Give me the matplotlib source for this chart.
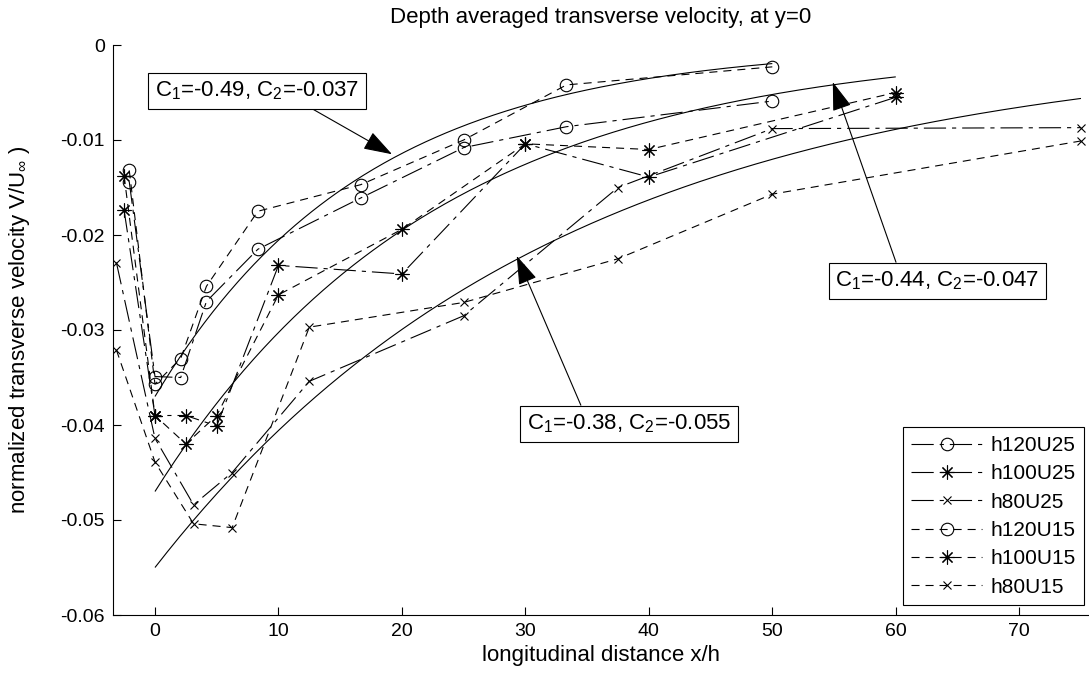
import matplotlib
matplotlib.use('Agg')
from matplotlib import pyplot as plt
import numpy as np

plt.rcParams['font.family'] = ['Liberation Sans', 'DejaVu Sans']
plt.rcParams['mathtext.fontset'] = 'custom'
plt.rcParams['mathtext.rm'] = 'Liberation Sans'
plt.rcParams['mathtext.it'] = 'Liberation Sans:italic'
plt.rcParams['axes.unicode_minus'] = False
plt.rcParams['lines.scale_dashes'] = False

# measuring stations x/h for the three flow depths
x_h120 = [-2.083, 0, 2.083, 4.167, 8.333, 16.67, 25, 33.33, 50]
x_h100 = [-2.5, 0, 2.5, 5, 10, 20, 30, 40, 60]
x_h80 = [-3.125, 0, 3.125, 6.25, 12.5, 25, 37.5, 50, 75]

# depth averaged V/U_inf on the centreline
v_h120U25 = [-0.0144, -0.0349, -0.0350, -0.0270, -0.0215, -0.0161, -0.0108, -0.0086, -0.0059]
v_h100U25 = [-0.0174, -0.0390, -0.0390, -0.0401, -0.0232, -0.0241, -0.0104, -0.0139, -0.0055]
v_h80U25 = [-0.0229, -0.0414, -0.0484, -0.0450, -0.0354, -0.0285, -0.0150, -0.0088, -0.0087]
v_h120U15 = [-0.0132, -0.0357, -0.0330, -0.0254, -0.0175, -0.0147, -0.0100, -0.0042, -0.0023]
v_h100U15 = [-0.0138, -0.0390, -0.0420, -0.0390, -0.0263, -0.0194, -0.0104, -0.0110, -0.0050]
v_h80U15 = [-0.0321, -0.0439, -0.0504, -0.0508, -0.0297, -0.0271, -0.0225, -0.0157, -0.0101]

# exponential decay fits  V/U = C2*exp(C1*x), x in metres
fit_C1 = [-0.49, -0.44, -0.38]
fit_C2 = [-0.037, -0.047, -0.055]
fit_depth = [0.12, 0.10, 0.08]   # h in m
fit_xmax = [50, 60, 75]          # x/h end of each fit

DASH = (5.8, 4.3)
DASHDOT = (16, 4.3, 3, 4.3)

fig = plt.figure(figsize=(10.89, 6.78), dpi=100)
ax = fig.add_axes([113 / 1089, 63 / 678, 976 / 1089, 570 / 678])

lw = 0.8
ax.plot(x_h120, v_h120U25, color='k', lw=lw, dashes=DASHDOT, marker='o', ms=9,
        mfc='none', mec='k', mew=lw, label='h120U25')
ax.plot(x_h100, v_h100U25, color='k', lw=lw, dashes=DASHDOT, marker=(8, 2, 0), ms=10,
        mec='k', mew=lw, label='h100U25')
ax.plot(x_h80, v_h80U25, color='k', lw=lw, dashes=DASHDOT, marker='x', ms=6,
        mec='k', mew=lw, label='h80U25')
ax.plot(x_h120, v_h120U15, color='k', lw=lw, dashes=DASH, marker='o', ms=9,
        mfc='none', mec='k', mew=lw, label='h120U15')
ax.plot(x_h100, v_h100U15, color='k', lw=lw, dashes=DASH, marker=(8, 2, 0), ms=10,
        mec='k', mew=lw, label='h100U15')
ax.plot(x_h80, v_h80U15, color='k', lw=lw, dashes=DASH, marker='x', ms=6,
        mec='k', mew=lw, label='h80U15')

for c1, c2, h, xm in zip(fit_C1, fit_C2, fit_depth, fit_xmax):
    xs = np.linspace(0, xm, 300)
    ax.plot(xs, c2 * np.exp(c1 * xs * h), color='k', lw=lw, solid_capstyle='butt')

ax.set_xlim(-3.4, 75.65)
ax.set_ylim(-0.06, 0)
ax.set_xticks(np.arange(0, 71, 10))
ax.set_yticks([0, -0.01, -0.02, -0.03, -0.04, -0.05, -0.06])
ax.set_yticklabels(['0', '-0.01', '-0.02', '-0.03', '-0.04', '-0.05', '-0.06'])

ax.spines['right'].set_color('none')
ax.spines['top'].set_color('none')
ax.spines['left'].set_linewidth(lw)
ax.spines['bottom'].set_linewidth(lw)
ax.xaxis.set_ticks_position('bottom')
ax.yaxis.set_ticks_position('left')
ax.tick_params(direction='in', length=6, width=lw, labelsize=14, pad=6)

ax.set_xlabel('longitudinal distance x/h', fontsize=16, labelpad=3)
ax.set_ylabel(r'normalized transverse velocity V/U$_{\infty}$ )', fontsize=16, labelpad=20)
fig.text(601 / 1089, 1 - 18 / 678, 'Depth averaged transverse velocity, at y=0',
         ha='center', va='center', fontsize=16)

# fit parameter call-outs
box = dict(boxstyle='square,pad=0.3', fc='white', ec='k', lw=lw)
arrow = dict(arrowstyle='-|>,head_length=1.8,head_width=0.6', color='k', lw=lw,
             mutation_scale=10, shrinkA=0, shrinkB=0)
notes = [
    (r'C$_1$=-0.49, C$_2$=-0.037', (19.2, -0.0115), (8.28, -0.0048), (0.71, 0)),
    (r'C$_1$=-0.44, C$_2$=-0.047', (54.9, -0.0039), (63.36, -0.0248), (0.31, 1)),
    (r'C$_1$=-0.38, C$_2$=-0.055', (29.3, -0.0222), (38.38, -0.03985), (0.28, 1)),
]
for txt, tip, pos, rel in notes:
    ax.annotate(txt, xy=tip, xytext=pos, ha='center', va='center', fontsize=16,
                bbox=box, arrowprops=dict(arrow, relpos=rel))

leg = ax.legend(loc='lower right', bbox_to_anchor=(0.995, 0.0175), borderaxespad=0,
                fontsize=15, handlelength=3.4, handletextpad=0.4, numpoints=1,
                fancybox=False, edgecolor='k', framealpha=1, labelspacing=0.45)
leg.get_frame().set_linewidth(lw)

fig.savefig('out.png', dpi=100)
